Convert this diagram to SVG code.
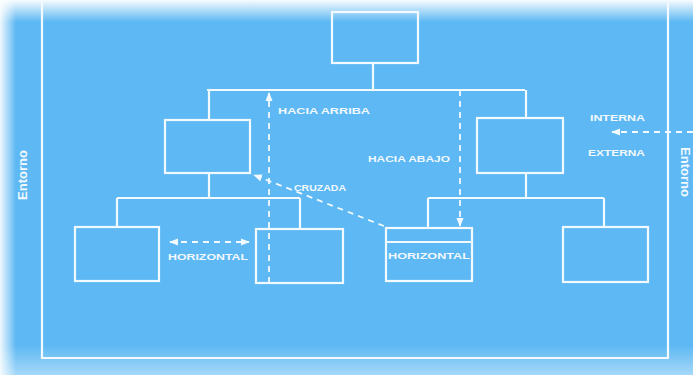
<svg xmlns="http://www.w3.org/2000/svg" width="693" height="375" viewBox="0 0 693 375">
<defs>
<linearGradient id="gTop" x1="0" y1="0" x2="0" y2="1"><stop offset="0" stop-color="#ffffff" stop-opacity="0.95"/><stop offset="1" stop-color="#ffffff" stop-opacity="0"/></linearGradient>
<linearGradient id="gLeft" x1="0" y1="0" x2="1" y2="0"><stop offset="0" stop-color="#ffffff" stop-opacity="0.9"/><stop offset="1" stop-color="#ffffff" stop-opacity="0"/></linearGradient>
<linearGradient id="gBot" x1="0" y1="0" x2="0" y2="1"><stop offset="0" stop-color="#ffffff" stop-opacity="0"/><stop offset="1" stop-color="#ffffff" stop-opacity="0.45"/></linearGradient>
<marker id="ah" viewBox="0 0 10 10" refX="9" refY="5" markerWidth="5" markerHeight="5" orient="auto-start-reverse"><path d="M0,1 L10,5 L0,9 z" fill="#f2f9ff"/></marker>
</defs>
<style>
.ln{stroke:#f2f9ff;stroke-width:2.2;fill:none}
.bx{stroke:#f2f9ff;stroke-width:2.2;fill:none}
.ds{stroke:#f2f9ff;stroke-width:1.8;fill:none;stroke-dasharray:6 5}
.lb{font-family:"Liberation Sans",Arial,sans-serif;font-weight:bold;font-size:9.5px;fill:#f2f9ff}
.en{font-family:"Liberation Sans",Arial,sans-serif;font-weight:bold;font-size:13px;fill:#f2f9ff}
</style>
<rect width="693" height="375" fill="#5db8f3"/>
<rect width="693" height="22" fill="url(#gTop)"/>
<rect width="16" height="375" fill="url(#gLeft)"/>
<rect y="345" width="693" height="30" fill="url(#gBot)"/>
<g id="frame">
<path class="ln" d="M42,0 V358 H668 V0"/>
<text class="en" transform="translate(27,175) rotate(-90)" text-anchor="middle">Entorno</text>
<text class="en" transform="translate(681,172) rotate(90)" text-anchor="middle">Entorno</text>
</g>
<g id="connectors">
<path class="ln" d="M373,63 V90 M207,90 H525 M209,90 V120 M526,90 V118"/>
<path class="ln" d="M209,173 V198 M117,198 H300 M117,198 V227 M300,198 V229"/>
<path class="ln" d="M526,173 V198 M428,198 H604 M428,198 V228 M604,198 V227"/>
<path class="ds" d="M269,283 V93" marker-end="url(#ah)"/>
<path class="ds" d="M460,90 V226" marker-end="url(#ah)"/>
<path class="ds" d="M384,226 L254,175" marker-end="url(#ah)"/>
<path class="ds" d="M170,242 H249" marker-start="url(#ah)" marker-end="url(#ah)"/>
<path class="ds" d="M693,132 H612" marker-end="url(#ah)"/>
</g>
<g id="n-top"><rect class="bx" x="332" y="12" width="86" height="51"/></g>
<g id="n-left"><rect class="bx" x="165" y="120" width="85" height="53"/></g>
<g id="n-right"><rect class="bx" x="477" y="118" width="86" height="55"/></g>
<g id="n-b1"><rect class="bx" x="75" y="227" width="84" height="54"/></g>
<g id="n-b2"><rect class="bx" x="256" y="229" width="87" height="54"/></g>
<g id="n-b3"><rect class="bx" x="386" y="228" width="86" height="53"/><path class="ln" d="M386,242 H472"/></g>
<g id="n-b4"><rect class="bx" x="563" y="227" width="85" height="55"/></g>
<g id="labels">
<text class="lb" x="278" y="114" textLength="92" lengthAdjust="spacingAndGlyphs">HACIA ARRIBA</text>
<text class="lb" x="368" y="162" textLength="82" lengthAdjust="spacingAndGlyphs">HACIA ABAJO</text>
<text class="lb" x="294" y="191" textLength="52" lengthAdjust="spacingAndGlyphs">CRUZADA</text>
<text class="lb" x="168" y="260" textLength="80" lengthAdjust="spacingAndGlyphs">HORIZONTAL</text>
<text class="lb" x="388" y="259" textLength="82" lengthAdjust="spacingAndGlyphs">HORIZONTAL</text>
<text class="lb" x="590" y="121" textLength="55" lengthAdjust="spacingAndGlyphs">INTERNA</text>
<text class="lb" x="588" y="156" textLength="57" lengthAdjust="spacingAndGlyphs">EXTERNA</text>
</g>
</svg>
